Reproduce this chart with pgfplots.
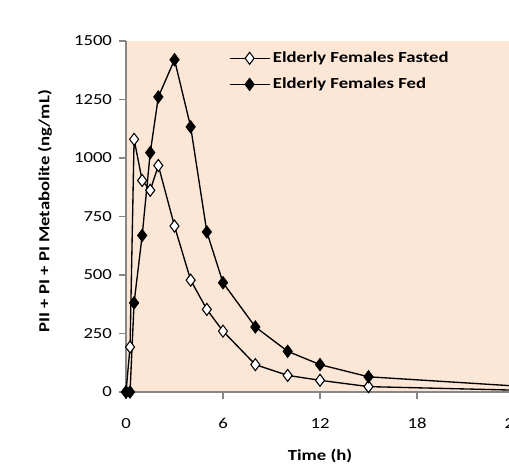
\documentclass[border=0pt]{standalone}
\usepackage{fontspec}
\setmainfont{Carlito}[FakeStretch=1.22]
\usepackage{pgfplots}
\pgfplotsset{compat=1.18}

\definecolor{peach}{RGB}{252,230,214}
\definecolor{axisgray}{RGB}{134,134,134}

\begin{document}
\begin{tikzpicture}[font=\fontsize{11.5pt}{13pt}\selectfont]
\useasboundingbox (0,0) rectangle (381.75pt,348pt);
\begin{axis}[
    at={(94.5pt,54pt)}, anchor=south west,
    scale only axis,
    width=291pt, height=263.25pt,
    xmin=0, xmax=24, ymin=0, ymax=1500,
    xtick={0,6,12,18,24},
    ytick={0,250,500,750,1000,1250,1500},
    axis lines*=left,
    axis line style={axisgray, line width=1.2pt},
    tick style={axisgray, line width=0.8pt},
    tick align=outside,
    major tick length=5pt,
    axis background/.style={fill=peach},
    /pgf/number format/assume math mode=true,
    /pgf/number format/1000 sep={},
    xticklabel style={yshift=-11pt},
    yticklabel style={xshift=-2pt},
    xlabel={\textbf{Time (h)}},
    ylabel={\textbf{PII + PI + PI Metabolite (ng/mL)}},
    xlabel style={at={(axis description cs:0.5,-0.182)}, anchor=center},
    ylabel style={at={(axis description cs:-0.2088,0.515)}, anchor=center},
    clip=false,
    legend cell align=left,
    legend style={draw=none, fill=none, at={(axis description cs:0,1)}, anchor=north west,
        xshift=74pt, yshift=-4pt, font=\fontsize{11.5pt}{13pt}\selectfont\bfseries,
        row sep=6pt},
    legend image code/.code={
        \draw[#1, mark repeat=2, mark phase=2] plot coordinates {(0pt,0pt) (15pt,0pt) (30pt,0pt)};
    },
]
\addplot[black, line width=1pt, mark=diamond*, mark size=4.5pt,
    mark options={fill=white, draw=black, line width=0.8pt}] coordinates {
    (0,0) (0.25,192) (0.5,1080) (1,904) (1.5,862) (2,968) (3,709) (4,478)
    (5,353) (6,260) (8,117) (10,71) (12,50) (15,23) (24,8)
};
\addplot[black, line width=1pt, mark=diamond*, mark size=4.5pt,
    mark options={fill=black, draw=black, line width=0.8pt}] coordinates {
    (0,0) (0.25,0) (0.5,381) (1,669) (1.5,1023) (2,1261) (3,1420) (4,1133)
    (5,684) (6,467) (8,278) (10,174) (12,117) (15,65) (24,26)
};
\legend{Elderly Females Fasted, Elderly Females Fed}
\end{axis}
\end{tikzpicture}
\end{document}
